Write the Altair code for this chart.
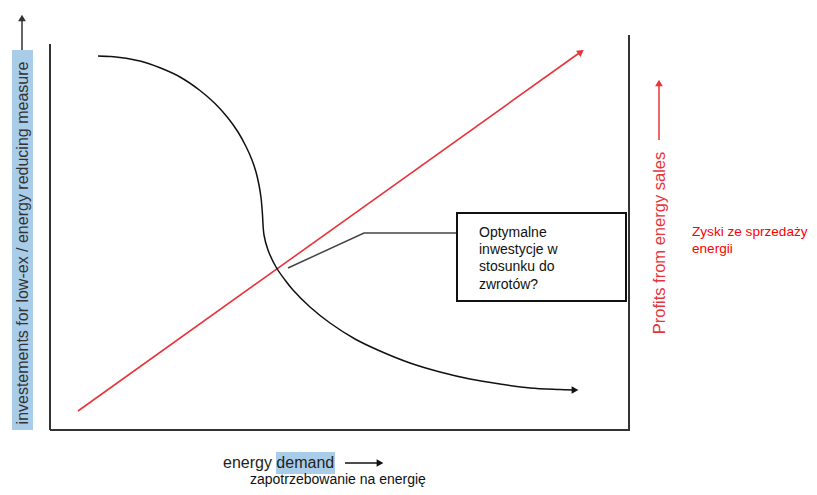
import altair as alt
import pandas as pd

# ---- data (schematic units = page pixels) ----
curve_x = [98, 110, 120, 140, 160, 180, 200, 215, 228, 238, 246, 252, 256, 259, 261, 262, 262.5,
           264, 268, 276, 285, 293, 310, 330, 355, 380, 410, 440, 470, 500, 530, 560, 574]
curve_y = [56, 56.5, 57.4, 61, 67.8, 77, 90.5, 103.5, 118, 132, 146.5, 160, 172, 185, 197.5, 208, 215,
           235, 250, 267, 280, 290, 307, 323, 339, 351, 363, 372, 379, 384, 388, 389.5, 390]

red_x = [78, 582]
red_y = [411, 51]

conn_x = [288, 364, 457]
conn_y = [268, 233, 233]

frame_x = [50, 50, 629]
frame_y = [44, 430, 35]
frame_x2 = [50, 630, 629]
frame_y2 = [430, 430, 430]

box_x, box_x2, box_y, box_y2 = [457], [626], [213], [301]

hl_x = [12, 276]
hl_x2 = [33, 335]
hl_y = [50, 452]
hl_y2 = [430, 474]

arrow_line_x = [22, 659, 345]
arrow_line_y = [50, 140, 463]
arrow_line_x2 = [22, 659, 378]
arrow_line_y2 = [20, 86, 463]
arrow_line_col = ["#333333", "#e8343c", "#111111"]

head_x = [22, 659, 380, 581, 575]
head_y = [18, 83, 463, 52, 390]
head_shape = ["triangle-up", "triangle-up", "triangle-right", "triangle-right", "triangle-right"]
head_angle = [0, 0, 0, 324.5, 0]
head_col = ["#333333", "#e8343c", "#111111", "#e8343c", "#111111"]

rot_text = ["investements for low-ex / energy reducing measure", "Profits from energy sales"]
rot_x = [23, 660]
rot_y = [243, 243]
rot_size = [16, 16.5]
rot_col = ["#333333", "#e8343c"]

lt_text = ["Optymalne", "inwestycje w", "stosunku do", "zwrotów?",
           "Zyski ze sprzedaży", "energii",
           "energy demand", "zapotrzebowanie na energię"]
lt_x = [479, 479, 479, 479, 692, 692, 223, 250]
lt_y = [233, 250, 267, 285, 232, 249, 463, 480]
lt_size = [14, 14, 14, 14, 13.6, 13.6, 16, 14]
lt_col = ["#111111"] * 4 + ["#ff0000"] * 2 + ["#222222", "#111111"]

W, H = 801, 479
xs = alt.Scale(domain=[8, 8 + W], nice=False, zero=False)
ys = alt.Scale(domain=[8, 8 + H], nice=False, zero=False, reverse=True)
FONT = "Liberation Sans"

def X(f):
    return alt.X(f, type="quantitative", scale=xs, axis=None)

def Y(f):
    return alt.Y(f, type="quantitative", scale=ys, axis=None)

hl = alt.Chart(pd.DataFrame({"x": hl_x, "x2": hl_x2, "y": hl_y, "y2": hl_y2})).mark_rect(
    color="#a9cde9").encode(x=X("x"), x2="x2", y=Y("y"), y2="y2")

frame = alt.Chart(pd.DataFrame({"x": frame_x, "x2": frame_x2, "y": frame_y, "y2": frame_y2})).mark_rule(
    color="#333333", strokeWidth=2).encode(x=X("x"), x2="x2", y=Y("y"), y2="y2")

arr_lines = alt.Chart(pd.DataFrame({"x": arrow_line_x, "x2": arrow_line_x2, "y": arrow_line_y,
                                    "y2": arrow_line_y2, "c": arrow_line_col})).mark_rule(
    strokeWidth=1.5).encode(x=X("x"), x2="x2", y=Y("y"), y2="y2", color=alt.Color("c:N", scale=None))

red = alt.Chart(pd.DataFrame({"x": red_x, "y": red_y})).mark_line(
    color="#e8343c", strokeWidth=1.6).encode(x=X("x"), y=Y("y"))

curve = alt.Chart(pd.DataFrame({"x": curve_x, "y": curve_y, "o": list(range(len(curve_x)))})).mark_line(
    color="#111111", strokeWidth=1.5, interpolate="catmull-rom").encode(x=X("x"), y=Y("y"), order="o:Q")

conn = alt.Chart(pd.DataFrame({"x": conn_x, "y": conn_y, "o": [0, 1, 2]})).mark_line(
    color="#444444", strokeWidth=1.5).encode(x=X("x"), y=Y("y"), order="o:Q")

box = alt.Chart(pd.DataFrame({"x": box_x, "x2": box_x2, "y": box_y, "y2": box_y2})).mark_rect(
    fill="white", stroke="#111111", strokeWidth=2).encode(x=X("x"), x2="x2", y=Y("y"), y2="y2")

heads = alt.Chart(pd.DataFrame({"x": head_x, "y": head_y, "s": head_shape, "a": head_angle,
                                "c": head_col})).mark_point(filled=True, opacity=1, size=60).encode(
    x=X("x"), y=Y("y"), shape=alt.Shape("s:N", scale=None), angle=alt.Angle("a:Q", scale=None),
    color=alt.Color("c:N", scale=None))

rot = alt.Chart(pd.DataFrame({"x": rot_x, "y": rot_y, "t": rot_text, "s": rot_size, "c": rot_col})).mark_text(
    font=FONT, align="center", baseline="middle", angle=270).encode(
    x=X("x"), y=Y("y"), text="t:N", size=alt.Size("s:Q", scale=None), color=alt.Color("c:N", scale=None))

lt = alt.Chart(pd.DataFrame({"x": lt_x, "y": lt_y, "t": lt_text, "s": lt_size, "c": lt_col})).mark_text(
    font=FONT, align="left", baseline="middle").encode(
    x=X("x"), y=Y("y"), text="t:N", size=alt.Size("s:Q", scale=None), color=alt.Color("c:N", scale=None))

chart = alt.layer(hl, frame, arr_lines, red, curve, conn, box, heads, rot, lt).properties(
    width=W, height=H, autosize=alt.AutoSizeParams(type="none"), padding=0, background="white"
).configure_view(stroke=None)

chart.save("out.html", embed_options={"renderer": "svg", "actions": False})
